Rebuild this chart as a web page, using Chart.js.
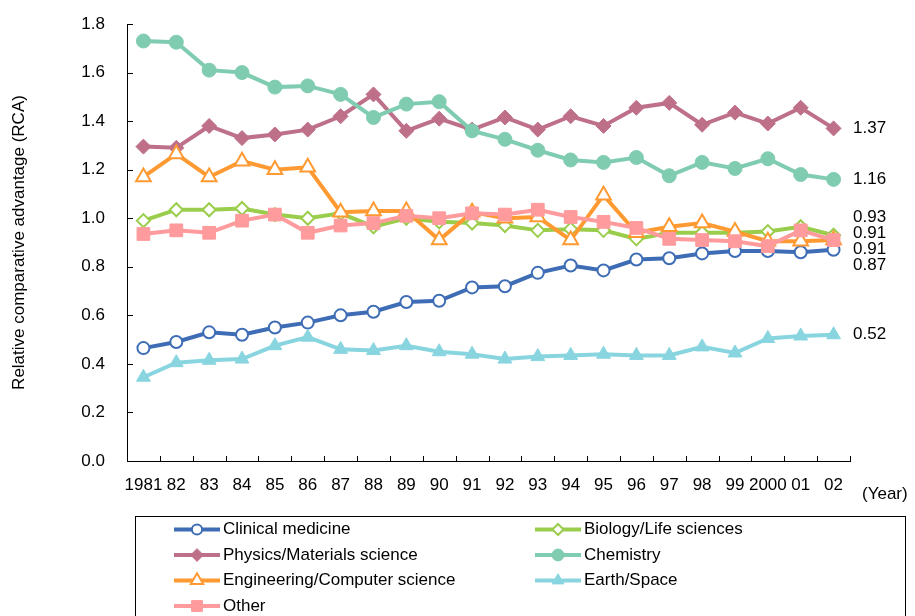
<!DOCTYPE html>
<html>
<head>
<meta charset="utf-8">
<title>Relative comparative advantage by field</title>
<script src="https://cdn.jsdelivr.net/npm/chart.js@4.4.1/dist/chart.umd.min.js"></script>
<style>
  html, body { margin: 0; padding: 0; background: #ffffff; }
  #wrap { width: 915px; height: 616px; }
</style>
</head>
<body>
<div id="wrap"><canvas id="rca" width="915" height="616"></canvas></div>
<script>
// Years on the category axis
const years = ['1981', '82', '83', '84', '85', '86', '87', '88', '89', '90', '91',
               '92', '93', '94', '95', '96', '97', '98', '99', '2000', '01', '02'];

// RCA values per field, one entry per year
const clinicalMedicine = [0.465, 0.49, 0.53, 0.52, 0.55, 0.57, 0.60, 0.615, 0.655, 0.66, 0.715,
                          0.72, 0.775, 0.805, 0.785, 0.83, 0.835, 0.855, 0.865, 0.865, 0.86, 0.87];
const biologyLife      = [0.99, 1.035, 1.035, 1.04, 1.015, 1.0, 1.02, 0.965, 1.0, 0.985, 0.98,
                          0.97, 0.95, 0.955, 0.95, 0.915, 0.94, 0.94, 0.94, 0.945, 0.965, 0.93];
const physicsMaterials = [1.295, 1.29, 1.38, 1.33, 1.345, 1.365, 1.42, 1.51, 1.36, 1.41, 1.365,
                          1.415, 1.365, 1.42, 1.38, 1.455, 1.475, 1.385, 1.435, 1.39, 1.455, 1.37];
const chemistry        = [1.73, 1.725, 1.61, 1.60, 1.54, 1.545, 1.51, 1.415, 1.47, 1.48, 1.36,
                          1.325, 1.28, 1.24, 1.23, 1.25, 1.175, 1.23, 1.205, 1.245, 1.18, 1.16];
const engineeringCS    = [1.17, 1.265, 1.17, 1.235, 1.20, 1.21, 1.025, 1.03, 1.03, 0.91, 1.025,
                          1.0, 1.005, 0.91, 1.095, 0.94, 0.965, 0.98, 0.945, 0.905, 0.905, 0.91];
const earthSpace       = [0.345, 0.405, 0.415, 0.42, 0.475, 0.51, 0.46, 0.455, 0.475, 0.45, 0.44,
                          0.42, 0.43, 0.435, 0.44, 0.435, 0.435, 0.47, 0.445, 0.505, 0.515, 0.52];
const otherFields      = [0.935, 0.95, 0.94, 0.99, 1.015, 0.94, 0.97, 0.98, 1.01, 1.0, 1.02,
                          1.015, 1.035, 1.005, 0.985, 0.96, 0.915, 0.91, 0.905, 0.885, 0.95, 0.91];

// Y axis range and step
const yMin = 0, yMax = 1.8, yStep = 0.2;

const FONT = "'Liberation Sans', Arial, Helvetica, sans-serif";
const FONT_SIZE = 17;

function series(label, data, color, style, radius, hollow, order) {
  return {
    label, data, order,
    borderColor: color,
    backgroundColor: color,
    borderWidth: 4,
    tension: 0,
    clip: false,
    pointStyle: style,
    pointRadius: radius,
    pointHoverRadius: radius,
    pointBackgroundColor: hollow ? '#ffffff' : color,
    pointBorderColor: color,
    pointBorderWidth: hollow ? 2 : 1
  };
}

const datasets = [
  series('Clinical medicine',             clinicalMedicine, '#3E6DB5', 'circle',   6,   true,  7),
  series('Biology/Life sciences',         biologyLife,      '#9ACD4C', 'rectRot',  6.5, true,  6),
  series('Physics/Materials science',     physicsMaterials, '#BE7089', 'rectRot',  7.5, false, 5),
  series('Chemistry',                     chemistry,        '#80CCB1', 'circle',   7,   false, 4),
  series('Engineering/Computer science',  engineeringCS,    '#FF9A33', 'triangle', 8.5, true,  3),
  series('Earth/Space',                   earthSpace,       '#88D5E0', 'triangle', 8,   false, 2),
  series('Other',                         otherFields,      '#FF9B9C', 'rect',     9,   false, 1)
];

// Inward tick marks on both axes
const innerTicks = {
  id: 'innerTicks',
  beforeDatasetsDraw(chart) {
    const { ctx, scales: { x, y } } = chart;
    ctx.save();
    ctx.strokeStyle = '#000';
    ctx.lineWidth = 1;
    ctx.beginPath();
    y.ticks.forEach(t => {
      if (t.value === yMin) return;
      const py = Math.round(y.getPixelForValue(t.value)) + 0.5;
      ctx.moveTo(x.left, py);
      ctx.lineTo(x.left + 6, py);
    });
    const n = x.ticks.length;
    const step = (x.right - x.left) / n;
    for (let k = 1; k <= n; k++) {
      const px = Math.round(x.left + k * step) + 0.5;
      ctx.moveTo(px, y.bottom);
      ctx.lineTo(px, y.bottom - 5);
    }
    ctx.stroke();
    ctx.restore();
  }
};

// Final-year value printed to the right of each line, spread apart where they crowd
const endLabels = {
  id: 'endLabels',
  afterDatasetsDraw(chart) {
    const { ctx, chartArea } = chart;
    const gap = 16;
    const items = chart.data.datasets.map((ds, i) => {
      const meta = chart.getDatasetMeta(i);
      const last = meta.data[meta.data.length - 1];
      return { text: ds.data[ds.data.length - 1].toFixed(2), y: last.y, idx: i };
    }).sort((a, b) => a.y - b.y || a.idx - b.idx);

    let groups = items.map(it => ({ items: [it], c: it.y }));
    let merged = true;
    while (merged) {
      merged = false;
      for (let i = 0; i < groups.length - 1; i++) {
        const a = groups[i], b = groups[i + 1];
        const aBottom = a.c + (a.items.length - 1) * gap / 2;
        const bTop = b.c - (b.items.length - 1) * gap / 2;
        if (bTop - aBottom < gap) {
          const all = a.items.concat(b.items);
          const c = all.reduce((s, it) => s + it.y, 0) / all.length;
          groups.splice(i, 2, { items: all, c });
          merged = true;
          break;
        }
      }
    }

    ctx.save();
    ctx.font = `${FONT_SIZE}px ${FONT}`;
    ctx.fillStyle = '#000';
    ctx.textAlign = 'left';
    ctx.textBaseline = 'middle';
    groups.forEach(g => {
      const top = g.c - (g.items.length - 1) * gap / 2;
      g.items.forEach((it, k) => ctx.fillText(it.text, chartArea.right + 3, top + k * gap));
    });
    ctx.restore();
  }
};

// "(Year)" caption and the boxed two-column legend
const captionAndLegend = {
  id: 'captionAndLegend',
  afterDraw(chart) {
    const { ctx, chartArea } = chart;
    ctx.save();
    ctx.font = `${FONT_SIZE}px ${FONT}`;
    ctx.fillStyle = '#000';
    ctx.textAlign = 'left';
    ctx.textBaseline = 'middle';
    ctx.fillText('(Year)', chartArea.right + 12, 494);

    // legend frame
    ctx.strokeStyle = '#000';
    ctx.lineWidth = 1;
    ctx.strokeRect(135.5, 516.5, 770, 120);

    const cols = [{ x: 174 }, { x: 535 }];
    const rowY = [529.5, 555, 580.5, 606];
    const sampleW = 46;
    chart.data.datasets.forEach((ds, i) => {
      const col = cols[i % 2];
      const y = rowY[Math.floor(i / 2)];
      ctx.strokeStyle = ds.borderColor;
      ctx.lineWidth = ds.borderWidth;
      ctx.lineCap = 'butt';
      ctx.beginPath();
      ctx.moveTo(col.x, y);
      ctx.lineTo(col.x + sampleW, y);
      ctx.stroke();

      ctx.fillStyle = ds.pointBackgroundColor;
      ctx.strokeStyle = ds.pointBorderColor;
      ctx.lineWidth = ds.pointBorderWidth;
      Chart.helpers.drawPoint(ctx, {
        pointStyle: ds.pointStyle,
        radius: ds.pointRadius * 0.85,
        borderWidth: ds.pointBorderWidth,
        rotation: 0
      }, col.x + sampleW / 2, y);

      ctx.fillStyle = '#000';
      ctx.fillText(ds.label, col.x + sampleW + 3, y);
    });
    ctx.restore();
  }
};

new Chart(document.getElementById('rca'), {
  type: 'line',
  data: { labels: years, datasets },
  plugins: [innerTicks, endLabels, captionAndLegend],
  options: {
    responsive: false,
    animation: false,
    devicePixelRatio: 1,
    layout: { padding: { top: 24, right: 65, bottom: 0, left: 0 } },
    plugins: {
      legend: { display: false },
      tooltip: { enabled: false }
    },
    scales: {
      x: {
        type: 'category',
        offset: true,
        grid: { display: false, drawTicks: false },
        border: { display: true, color: '#000', width: 1 },
        ticks: {
          autoSkip: false, maxRotation: 0, minRotation: 0,
          color: '#000', font: { family: FONT, size: FONT_SIZE }, padding: 14
        },
        afterFit(scale) {
          scale.height = 155;
          scale.paddingLeft = 0;
          scale.paddingRight = 0;
        }
      },
      y: {
        min: yMin, max: yMax,
        grid: { display: false, drawTicks: false },
        border: { display: true, color: '#000', width: 1 },
        ticks: {
          stepSize: yStep,
          color: '#000', font: { family: FONT, size: FONT_SIZE }, padding: 22,
          callback: v => Number(v).toFixed(1)
        },
        title: {
          display: true,
          text: 'Relative comparative advantage (RCA)',
          color: '#000',
          font: { family: FONT, size: FONT_SIZE },
          padding: { top: 9, bottom: 0 }
        },
        afterFit(scale) {
          scale.width = 127;
          scale.paddingTop = 0;
          scale.paddingBottom = 0;
        }
      }
    }
  }
});
</script>
</body>
</html>
